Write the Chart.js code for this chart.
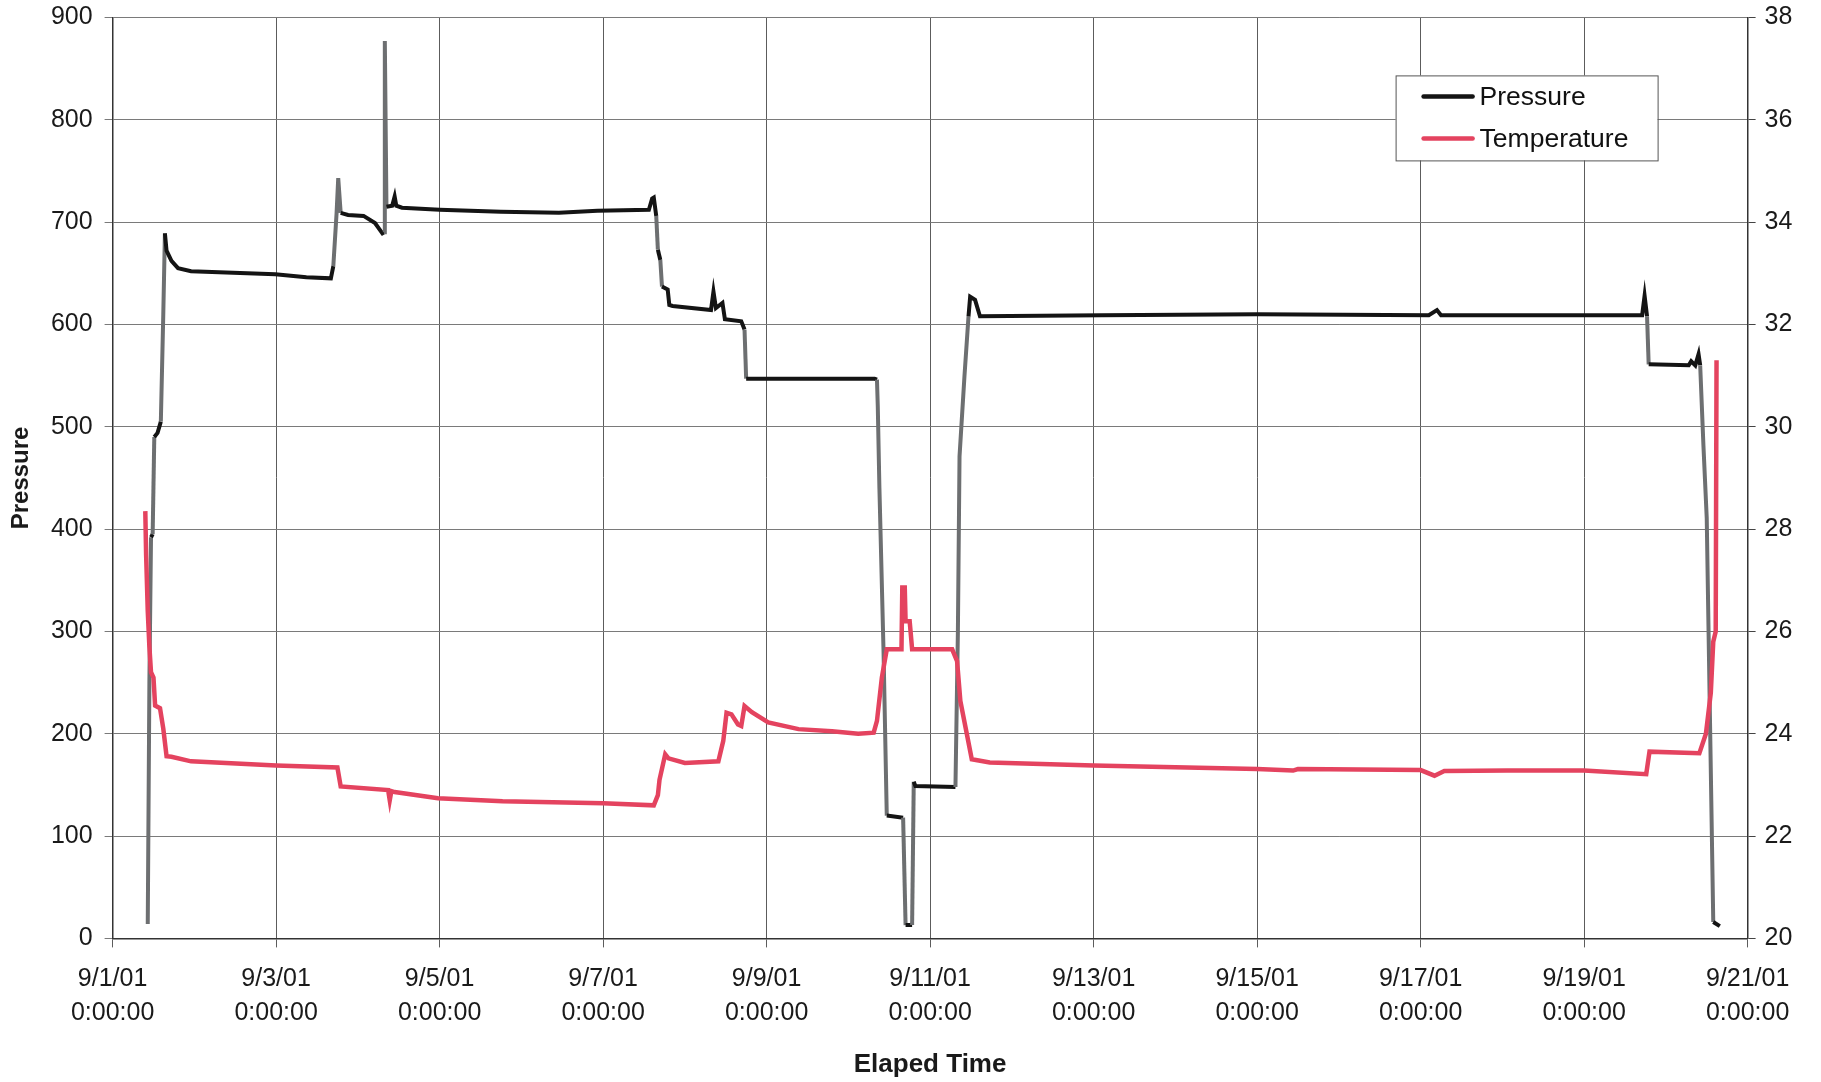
<!DOCTYPE html>
<html>
<head>
<meta charset="utf-8">
<title>Pressure / Temperature</title>
<script src="https://cdn.jsdelivr.net/npm/chart.js"></script>
<style>
  html, body { margin: 0; padding: 0; background: #fff; }
  #wrap { width: 1821px; height: 1082px; }
</style>
</head>
<body>
<div id="wrap"><canvas id="grafico"></canvas></div>
<script>
// tiempo en dias desde 9/1/01 0:00:00
let presionDias = [0.43,0.45,0.47,0.49,0.51,0.55,0.59,0.62,0.64,0.66,0.72,0.80,0.96,1.99,2.37,2.67,2.70,2.74,2.76,2.79,2.88,3.07,3.21,3.30,3.32,3.33,3.35,3.42,3.45,3.47,3.54,4.00,4.75,5.46,5.93,6.56,6.60,6.62,6.65,6.67,6.70,6.72,6.79,6.81,6.85,7.32,7.35,7.38,7.46,7.49,7.69,7.73,7.75,9.32,9.35,9.36,9.38,9.43,9.47,9.67,9.70,9.78,9.80,9.82,10.31,10.34,10.36,10.42,10.47,10.49,10.55,10.61,12.10,14.00,16.10,16.20,16.25,17.60,18.71,18.74,18.77,18.79,19.28,19.31,19.36,19.40,19.42,19.46,19.50,19.54,19.58,19.66];
let presionValores = [14,250,392,395,490,494,505,610,689,672,662,655,652,649,646,645,657,709,743,709,707,706,699,689,690,877,715,716,725,716,714,712,710,709,711,712,723,724,706,673,663,637,634,619,618,614,632,616,621,605,603,595,547,547,546,520,440,282,120,118,13,13,153,149,148,300,471,549,608,627,624,608,609,610,609,614,609,609,609,628,608,561,560,564,560,571,560,481,411,213,16,12];

let tempDias = [0.40,0.41,0.43,0.45,0.47,0.50,0.52,0.58,0.62,0.66,0.72,0.96,2.00,2.75,2.79,3.37,3.39,3.41,3.45,3.98,4.77,6.00,6.62,6.67,6.69,6.76,6.80,7.00,7.41,7.47,7.51,7.57,7.65,7.69,7.73,7.82,8.02,8.39,8.80,9.12,9.31,9.35,9.41,9.47,9.65,9.66,9.69,9.70,9.75,9.78,10.27,10.33,10.37,10.45,10.51,10.73,12.00,14.00,14.44,14.50,16.00,16.17,16.29,17.06,18.00,18.76,18.80,19.41,19.49,19.55,19.58,19.61,19.62];
let tempValores = [28.35,27.5,26.4,25.7,25.2,25.1,24.55,24.5,24.1,23.56,23.55,23.46,23.38,23.34,22.97,22.9,22.7,22.88,22.86,22.74,22.68,22.64,22.6,22.8,23.1,23.6,23.52,23.43,23.46,23.86,24.41,24.38,24.18,24.15,24.54,24.42,24.22,24.09,24.05,24.0,24.02,24.25,25.1,25.65,25.65,26.86,26.86,26.2,26.2,25.65,25.65,25.42,24.64,23.99,23.5,23.44,23.38,23.31,23.28,23.31,23.29,23.18,23.27,23.28,23.28,23.21,23.65,23.62,24.0,24.8,25.8,26.0,31.3];

let etiquetasFecha = ['9/1/01','9/3/01','9/5/01','9/7/01','9/9/01','9/11/01','9/13/01','9/15/01','9/17/01','9/19/01','9/21/01'];
let etiquetaHora = '0:00:00';

let fuente = '"Liberation Sans", Arial, sans-serif';
let negro = '#141414';
let gris = '#6d6f71';

let puntos = (dias, valores) => dias.map((d, i) => ({x: d, y: valores[i]}));

// tramos empinados de la presion salen grises, como en el original
let colorTramo = (c) => {
    let dt = Math.abs(c.p1.parsed.x - c.p0.parsed.x) || 0.0001;
    let dp = Math.abs(c.p1.parsed.y - c.p0.parsed.y);
    return (dp > 25 && dp / dt > 300) ? gris : negro;
};

// los ejes verticales no deben empujar el area del grafico hacia abajo
let anchoFijo = (ancho) => (s) => {
    s.width = ancho;
    s.paddingTop = 0;
    s.paddingBottom = 0;
};

let leyendaCaja = {
    id: 'leyendaCaja',
    afterDraw(chart) {
        let ctx = chart.ctx;
        let area = chart.chartArea;
        let x = area.right - 352, y = area.top + 58, w = 262, h = 85;
        ctx.save();
        ctx.fillStyle = '#fff';
        ctx.fillRect(x, y, w, h);
        ctx.strokeStyle = '#555';
        ctx.lineWidth = 1;
        ctx.strokeRect(x + 0.5, y + 0.5, w, h);
        ctx.font = '26.5px ' + fuente;
        ctx.textBaseline = 'middle';
        ctx.lineCap = 'round';
        let filas = [21, 63];
        chart.data.datasets.forEach((ds, i) => {
            let fy = y + filas[i];
            ctx.strokeStyle = ds.borderColor;
            ctx.lineWidth = 4.5;
            ctx.beginPath();
            ctx.moveTo(x + 28, fy);
            ctx.lineTo(x + 77, fy);
            ctx.stroke();
            ctx.fillStyle = '#111';
            ctx.fillText(ds.label, x + 84, fy + 1);
        });
        ctx.restore();
    }
};

let ctx = document.getElementById('grafico').getContext('2d');
let grafico = new Chart(ctx, {
    type: 'line',
    data: {
        datasets: [{
            label: 'Pressure',
            data: puntos(presionDias, presionValores),
            yAxisID: 'y',
            borderColor: negro,
            borderWidth: 4,
            pointRadius: 0,
            tension: 0,
            order: 1,
            segment: { borderColor: colorTramo }
        }, {
            label: 'Temperature',
            data: puntos(tempDias, tempValores),
            yAxisID: 'y1',
            borderColor: '#e4435f',
            borderWidth: 4.5,
            pointRadius: 0,
            tension: 0,
            order: 0
        }]
    },
    options: {
        responsive: true,
        maintainAspectRatio: false,
        animation: false,
        layout: { padding: { top: 17.4, left: 0, right: 0, bottom: 0 } },
        plugins: {
            legend: { display: false },
            tooltip: { enabled: false }
        },
        scales: {
            x: {
                type: 'linear',
                min: 0,
                max: 20,
                afterFit: (s) => { s.height = 143.6; },
                ticks: {
                    stepSize: 2,
                    autoSkip: false,
                    maxRotation: 0,
                    padding: 15,
                    color: '#1a1a1a',
                    font: { family: fuente, size: 25, lineHeight: '34px' },
                    callback: (v) => [etiquetasFecha[Math.round(v / 2)], etiquetaHora]
                },
                grid: { color: '#5c5c5c', lineWidth: 1, tickLength: 9 },
                border: { color: '#333', width: 1.5 },
                title: {
                    display: true,
                    text: 'Elaped Time',
                    color: '#1a1a1a',
                    font: { family: fuente, size: 26, weight: 'bold' },
                    padding: { top: 0, bottom: 2 }
                }
            },
            y: {
                position: 'left',
                min: 0,
                max: 900,
                afterFit: anchoFijo(112.6),
                ticks: {
                    stepSize: 100,
                    padding: 12,
                    color: '#1a1a1a',
                    font: { family: fuente, size: 25 }
                },
                grid: { color: '#7a7a7a', lineWidth: 1, tickLength: 8 },
                border: { color: '#333', width: 1.5 },
                title: {
                    display: true,
                    text: 'Pressure',
                    color: '#1a1a1a',
                    font: { family: fuente, size: 24, weight: 'bold' },
                    padding: { top: 7, bottom: 0 }
                }
            },
            y1: {
                position: 'right',
                min: 20,
                max: 38,
                afterFit: anchoFijo(73.4),
                ticks: {
                    stepSize: 2,
                    padding: 9,
                    color: '#1a1a1a',
                    font: { family: fuente, size: 25 }
                },
                grid: { drawOnChartArea: false, color: '#444', tickLength: 8 },
                border: { color: '#333', width: 1.5 }
            }
        }
    },
    plugins: [leyendaCaja]
});
</script>
</body>
</html>
